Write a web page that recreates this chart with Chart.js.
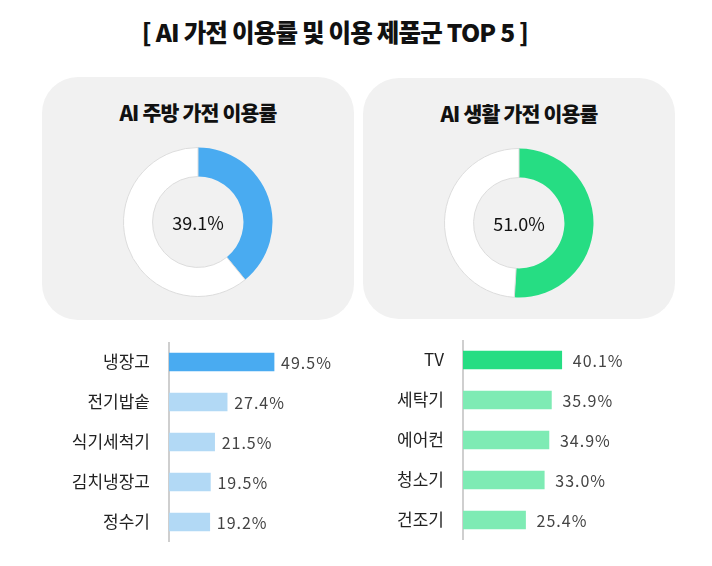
<!DOCTYPE html>
<html>
<head>
<meta charset="utf-8">
<script src="https://cdn.jsdelivr.net/npm/chart.js@4.4.1/dist/chart.umd.min.js"></script>
<style>
  body { margin:0; background:#fff; font-family:"Noto Sans CJK KR", sans-serif; }
  #wrap { position:relative; width:712px; height:566px; }
  .title { position:absolute; left:0; width:670px; top:14px; text-align:center; font-size:24.5px; font-weight:900; color:#111; letter-spacing:-0.8px; }
  .panel { position:absolute; background:#f1f1f1; border-radius:36px; }
  .ptitle { position:absolute; left:0; right:0; top:20px; text-align:center; font-size:20.5px; font-weight:900; color:#111; letter-spacing:-0.8px; }
  canvas { position:absolute; display:block; }
</style>
</head>
<body>
<div id="wrap">
  <div class="title">[ AI 가전 이용률 및 이용 제품군 TOP 5 ]</div>
  <div class="panel" style="left:42px;top:77px;width:312px;height:243px;"><div class="ptitle">AI 주방 가전 이용률</div></div>
  <div class="panel" style="left:363px;top:78px;width:312px;height:241px;"><div class="ptitle">AI 생활 가전 이용률</div></div>
  <canvas id="d1" width="150" height="150" style="left:123px;top:147px;"></canvas>
  <canvas id="d2" width="150" height="150" style="left:444px;top:148px;"></canvas>
  <canvas id="b1" width="300" height="200" style="left:60px;top:342px;"></canvas>
  <canvas id="b2" width="280" height="200" style="left:380px;top:340px;"></canvas>
</div>
<script>
// 이용률
var kitchenRate = 39.1;
var livingRate = 51.0;

// 제품군 TOP 5
var kitchenItems = ['냉장고', '전기밥솥', '식기세척기', '김치냉장고', '정수기'];
var kitchenValues = [49.5, 27.4, 21.5, 19.5, 19.2];
var livingItems = ['TV', '세탁기', '에어컨', '청소기', '건조기'];
var livingValues = [40.1, 35.9, 34.9, 33.0, 25.4];

var FONT = '"Noto Sans CJK KR", sans-serif';

// text in the hole of the doughnut
var centerText = {
  id: 'centerText',
  afterDraw: function(chart) {
    var meta = chart.getDatasetMeta(0).data[0];
    var ctx = chart.ctx;
    ctx.save();
    ctx.font = '400 18px ' + FONT;
    ctx.fillStyle = '#111';
    ctx.textAlign = 'center';
    ctx.textBaseline = 'middle';
    ctx.fillText(chart.options.plugins.centerText.text, meta.x, meta.y + 1);
    ctx.restore();
  }
};

// value after each bar
var barValues = {
  id: 'barValues',
  afterDatasetsDraw: function(chart) {
    var ctx = chart.ctx;
    var gap = chart.options.plugins.barValues.gap;
    ctx.save();
    ctx.font = '16px ' + FONT;
    ctx.fillStyle = '#444';
    ctx.textBaseline = 'middle';
    ctx.letterSpacing = '1px';
    chart.getDatasetMeta(0).data.forEach(function(bar, i) {
      ctx.fillText(chart.data.datasets[0].data[i].toFixed(1) + '%', bar.x + gap, bar.y + 1);
    });
    ctx.restore();
  }
};

function makeDoughnut(id, rate, color) {
  new Chart(document.getElementById(id), {
    type: 'doughnut',
    data: {
      datasets: [{
        data: [rate, 100 - rate],
        backgroundColor: [color, '#ffffff'],
        borderColor: [color, '#dcdcdc'],
        borderWidth: [0, 1]
      }]
    },
    options: {
      responsive: false,
      animation: false,
      cutout: '61%',
      plugins: {
        legend: { display: false },
        tooltip: { enabled: false },
        centerText: { text: rate.toFixed(1) + '%' }
      }
    },
    plugins: [centerText]
  });
}

function makeBars(id, labels, values, main, light, max, gap, axisWidth) {
  var colors = values.map(function(v, i) { return i === 0 ? main : light; });
  new Chart(document.getElementById(id), {
    type: 'bar',
    data: {
      labels: labels,
      datasets: [{ data: values, backgroundColor: colors, barThickness: 18 }]
    },
    options: {
      indexAxis: 'y',
      responsive: false,
      animation: false,
      layout: { padding: 0, autoPadding: false },
      scales: {
        x: { display: false, min: 0, max: max },
        y: {
          afterFit: function(scale) {
            scale.width = axisWidth;
            scale.paddingTop = 0;
            scale.paddingBottom = 0;
          },
          grid: { display: false, drawTicks: false },
          border: { display: true, color: '#cfcfcf', width: 2 },
          ticks: { padding: 19, color: '#222', font: { family: FONT, size: 17 } }
        }
      },
      plugins: {
        legend: { display: false },
        tooltip: { enabled: false },
        barValues: { gap: gap }
      }
    },
    plugins: [barValues]
  });
}

makeDoughnut('d1', kitchenRate, '#49abf1');
makeDoughnut('d2', livingRate, '#26dd83');
makeBars('b1', kitchenItems, kitchenValues, '#49abf1', '#b2d9f5', 90, 7, 109);
makeBars('b2', livingItems, livingValues, '#26dd83', '#7eebb4', 80, 11, 83);
</script>
</body>
</html>
